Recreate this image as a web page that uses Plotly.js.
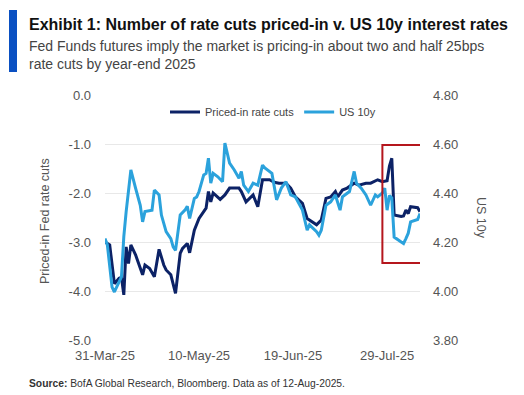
<!DOCTYPE html>
<html>
<head>
<meta charset="utf-8">
<script src="https://cdn.plot.ly/plotly-3.0.1.min.js"></script>
<style>html,body{margin:0;padding:0;background:#fff;}#chart{width:524px;height:395px;}</style>
</head>
<body>
<div id="chart"></div>
<script>
// Priced-in rate cuts (left axis)
const cutsDates = ['2025-03-31','2025-04-02','2025-04-04','2025-04-06','2025-04-07','2025-04-08','2025-04-09','2025-04-10','2025-04-11','2025-04-13','2025-04-14','2025-04-16','2025-04-17','2025-04-19','2025-04-21','2025-04-23','2025-04-25','2025-04-26','2025-04-28','2025-04-29','2025-04-30','2025-05-02','2025-05-03','2025-05-05','2025-05-06','2025-05-08','2025-05-10','2025-05-13','2025-05-14','2025-05-15','2025-05-16','2025-05-19','2025-05-21','2025-05-23','2025-05-27','2025-05-28','2025-05-30','2025-06-02','2025-06-04','2025-06-06','2025-06-09','2025-06-11','2025-06-13','2025-06-16','2025-06-18','2025-06-20','2025-06-23','2025-06-25','2025-06-27','2025-06-29','2025-07-01','2025-07-03','2025-07-05','2025-07-07','2025-07-08','2025-07-10','2025-07-12','2025-07-15','2025-07-17','2025-07-20','2025-07-22','2025-07-25','2025-07-27','2025-07-29','2025-07-30','2025-07-31','2025-08-01','2025-08-04','2025-08-05','2025-08-06','2025-08-07','2025-08-08','2025-08-11','2025-08-12'];
const cutsValues = [-3.00,-3.06,-3.85,-3.74,-3.72,-4.08,-3.10,-3.44,-3.06,-3.26,-3.40,-3.67,-3.47,-3.54,-3.71,-3.15,-3.47,-3.57,-3.67,-3.88,-4.05,-3.23,-3.13,-3.03,-3.22,-2.76,-2.52,-2.31,-1.97,-2.18,-2.00,-2.13,-2.04,-1.90,-1.90,-1.97,-2.18,-2.04,-2.28,-1.73,-1.73,-1.78,-1.80,-1.80,-1.90,-2.08,-2.21,-2.52,-2.59,-2.65,-2.55,-2.11,-2.08,-1.97,-2.08,-1.94,-1.90,-1.80,-1.84,-1.80,-1.80,-1.73,-1.77,-1.75,-1.45,-1.29,-2.45,-2.48,-2.47,-2.35,-2.42,-2.28,-2.30,-2.38];

// US 10y yield (right axis)
const ustDates = ['2025-03-31','2025-04-01','2025-04-03','2025-04-04','2025-04-07','2025-04-08','2025-04-09','2025-04-11','2025-04-13','2025-04-15','2025-04-16','2025-04-17','2025-04-20','2025-04-21','2025-04-23','2025-04-24','2025-04-26','2025-04-28','2025-04-29','2025-04-30','2025-05-02','2025-05-04','2025-05-05','2025-05-06','2025-05-08','2025-05-09','2025-05-10','2025-05-12','2025-05-13','2025-05-14','2025-05-15','2025-05-16','2025-05-18','2025-05-20','2025-05-21','2025-05-23','2025-05-25','2025-05-27','2025-05-28','2025-05-29','2025-05-31','2025-06-02','2025-06-04','2025-06-06','2025-06-07','2025-06-10','2025-06-12','2025-06-14','2025-06-16','2025-06-18','2025-06-20','2025-06-23','2025-06-25','2025-06-26','2025-06-29','2025-06-30','2025-07-01','2025-07-03','2025-07-05','2025-07-07','2025-07-09','2025-07-10','2025-07-13','2025-07-15','2025-07-16','2025-07-18','2025-07-20','2025-07-22','2025-07-24','2025-07-25','2025-07-27','2025-07-28','2025-07-29','2025-07-30','2025-07-31','2025-08-01','2025-08-04','2025-08-05','2025-08-06','2025-08-07','2025-08-08','2025-08-10','2025-08-11','2025-08-12'];
const ustValues = [4.214,4.188,4.016,3.996,4.058,4.222,4.324,4.494,4.420,4.350,4.282,4.324,4.330,4.412,4.392,4.310,4.242,4.214,4.180,4.166,4.310,4.330,4.346,4.296,4.378,4.384,4.406,4.474,4.480,4.542,4.440,4.480,4.466,4.446,4.604,4.522,4.494,4.460,4.488,4.432,4.406,4.440,4.432,4.514,4.502,4.480,4.372,4.420,4.446,4.392,4.384,4.330,4.248,4.270,4.242,4.228,4.248,4.350,4.364,4.392,4.330,4.384,4.406,4.488,4.440,4.420,4.392,4.350,4.392,4.384,4.400,4.420,4.330,4.390,4.380,4.220,4.200,4.194,4.214,4.236,4.282,4.290,4.292,4.316];

const seriesNames = ['Priced-in rate cuts','US 10y'];
const xTickVals = ['2025-03-31','2025-05-10','2025-06-19','2025-07-29'];
const xTickText = ['31-Mar-25','10-May-25','19-Jun-25','29-Jul-25'];
const xRange = ['2025-03-31','2025-08-12'];
const leftTickVals = [0, -1, -2, -3, -4, -5];
const leftTickText = ['0.0','-1.0','-2.0','-3.0','-4.0','-5.0'];
const rightTickVals = [4.8, 4.6, 4.4, 4.2, 4.0, 3.8];
const rightTickText = ['4.80','4.60','4.40','4.20','4.00','3.80'];
const leftRange = [-5, 0];
const rightRange = [3.8, 4.8];
const highlightBox = {x0:'2025-07-27', x1:'2025-08-17', y0:-3.43, y1:-1.02};

const FONT = '"Liberation Sans", Arial, sans-serif';
const NAVY = '#0c2266';
const LIGHT = '#2ba2dc';
const GREY = '#555555';

const traces = [
  {x: cutsDates, y: cutsValues, name: seriesNames[0], type:'scatter', mode:'lines',
   line:{color:NAVY, width:3}, yaxis:'y'},
  {x: ustDates, y: ustValues, name: seriesNames[1], type:'scatter', mode:'lines',
   line:{color:LIGHT, width:3}, yaxis:'y2'}
];

const W = 524, H = 395, L = 105, R = 104, T = 95, B = 55;
const pw = W - L - R, ph = H - T - B;
const px = v => (v - L) / pw;
const py = v => (H - B - v) / ph;

const layout = {
  width: W, height: H,
  margin: {l:L, r:R, t:T, b:B, pad:0},
  paper_bgcolor:'#fff', plot_bgcolor:'#fff',
  font: {family: FONT, size: 13, color: GREY},
  showlegend: true,
  legend: {orientation:'h', x: px(165), xanchor:'left', y: py(112), yanchor:'middle',
           font:{family:FONT, size:11, color:'#444'}, bgcolor:'rgba(0,0,0,0)', traceorder:'normal'},
  xaxis: {type:'date', range: xRange, tickmode:'array', tickvals: xTickVals, ticktext: xTickText,
          showgrid:false, zeroline:false, showline:false, ticks:'',
          tickfont:{family:FONT, size:13, color:GREY}, ticklabelstandoff: 6},
  yaxis: {range: leftRange, tickmode:'array', tickvals: leftTickVals, ticktext: leftTickText,
          showgrid:true, gridcolor:'#e8e8e8', gridwidth:1,
          zeroline:false, showline:false, ticks:'', tickfont:{family:FONT, size:13, color:GREY},
          ticklabelstandoff: 13},
  yaxis2: {range: rightRange, tickmode:'array', tickvals: rightTickVals, ticktext: rightTickText,
           overlaying:'y', side:'right', showgrid:false,
           zeroline:false, showline:false, ticks:'', tickfont:{family:FONT, size:13, color:GREY},
           ticklabelstandoff: 12},
  shapes: [
    {type:'rect', xref:'x', yref:'y', x0:highlightBox.x0, x1:highlightBox.x1, y0:highlightBox.y0, y1:highlightBox.y1,
     line:{color:'#b5161d', width:2}, fillcolor:'rgba(0,0,0,0)'},
    {type:'rect', xref:'paper', yref:'paper', x0:px(9), x1:px(17), y0:py(72), y1:py(10),
     line:{width:0}, fillcolor:'#0a50c2'}
  ],
  annotations: [
    {xref:'paper', yref:'paper', x:px(27), y:py(24), xanchor:'left', yanchor:'middle', showarrow:false,
     text:'<b>Exhibit 1: Number of rate cuts priced-in v. US 10y interest rates</b>',
     font:{family:FONT, size:16, color:'#111'}},
    {xref:'paper', yref:'paper', x:px(27), y:py(46), xanchor:'left', yanchor:'middle', showarrow:false,
     text:'Fed Funds futures imply the market is pricing-in about two and half 25bps',
     font:{family:FONT, size:14, color:'#444'}},
    {xref:'paper', yref:'paper', x:px(27), y:py(64), xanchor:'left', yanchor:'middle', showarrow:false,
     text:'rate cuts by year-end 2025',
     font:{family:FONT, size:14, color:'#444'}},
    {xref:'paper', yref:'paper', x:px(45), y:py(221), xanchor:'center', yanchor:'middle', showarrow:false,
     text:'Priced-in Fed rate cuts', textangle:-90,
     font:{family:FONT, size:12.5, color:GREY}},
    {xref:'paper', yref:'paper', x:px(481), y:py(218), xanchor:'center', yanchor:'middle', showarrow:false,
     text:'US 10y', textangle:90,
     font:{family:FONT, size:12.5, color:GREY}},
    {xref:'paper', yref:'paper', x:px(27), y:py(383), xanchor:'left', yanchor:'middle', showarrow:false,
     text:'<b>Source:</b> BofA Global Research, Bloomberg. Data as of 12-Aug-2025.',
     font:{family:FONT, size:10.3, color:'#333'}}
  ]
};

Plotly.newPlot('chart', traces, layout, {displayModeBar:false, staticPlot:true});
</script>
</body>
</html>
